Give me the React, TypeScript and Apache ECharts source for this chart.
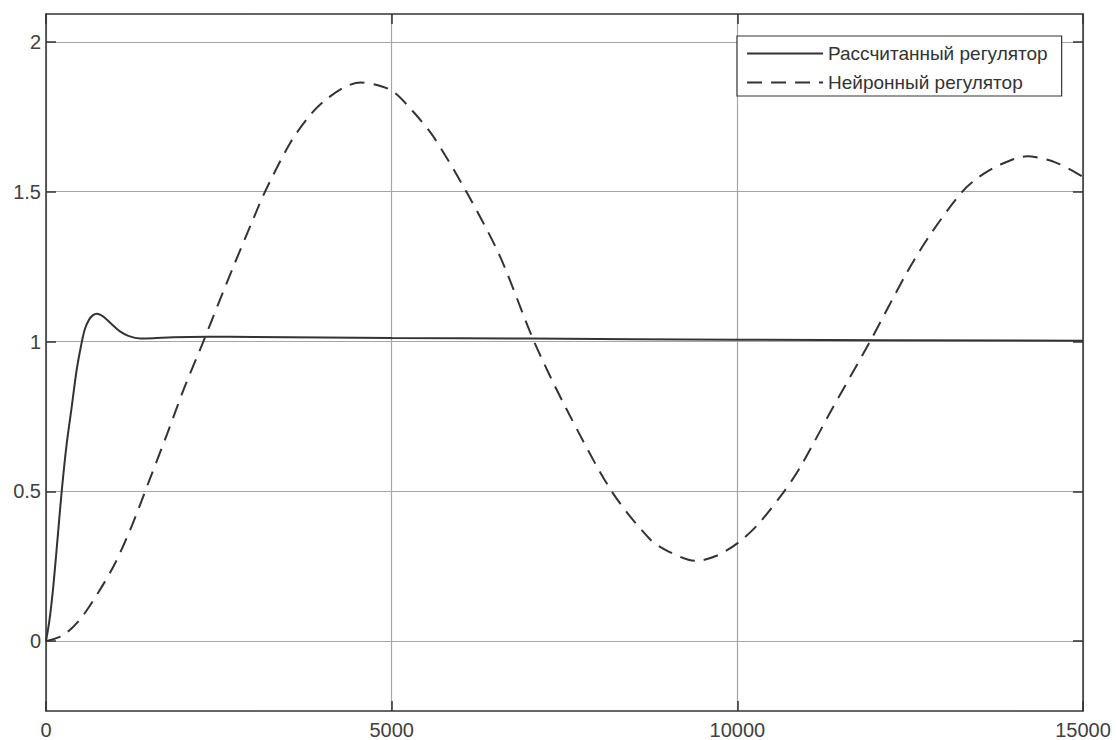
import React, { useEffect, useRef } from "react";
import * as echarts from "echarts";

const seriesNames = ["Рассчитанный регулятор", "Нейронный регулятор"];

const calcX = [0, 50, 106, 170, 227, 300, 371, 440, 502, 560, 620, 680, 738, 830, 950, 1070, 1200, 1360, 1550, 1837, 2329, 3000, 5000, 7000, 10000, 15000];
const calcY = [0, 0.07, 0.184, 0.35, 0.5, 0.66, 0.78, 0.9, 0.98, 1.04, 1.072, 1.088, 1.093, 1.083, 1.058, 1.034, 1.018, 1.01, 1.011, 1.0145, 1.016, 1.015, 1.012, 1.01, 1.006, 1.003];

const neuroX = [0, 250, 500, 750, 1000, 1250, 1500, 1750, 2000, 2276, 2500, 2710, 3000, 3168, 3530, 3800, 4011, 4300, 4550, 4800, 5024, 5300, 5603, 6085, 6567, 7060, 7532, 8183, 8737, 9000, 9400, 9700, 10014, 10300, 10665, 10906, 11340, 11919, 12450, 12800, 13245, 13500, 13800, 14186, 14600, 15000];
const neuroY = [0, 0.02, 0.075, 0.16, 0.26, 0.39, 0.54, 0.69, 0.845, 1.0, 1.13, 1.25, 1.41, 1.5, 1.662, 1.75, 1.8, 1.847, 1.864, 1.855, 1.834, 1.77, 1.684, 1.498, 1.284, 1.0, 0.773, 0.5, 0.34, 0.3, 0.268, 0.285, 0.329, 0.39, 0.496, 0.579, 0.762, 1.0, 1.229, 1.36, 1.498, 1.55, 1.59, 1.618, 1.598, 1.549];

const yTicks = [0, 0.5, 1, 1.5, 2];
const yMin = -0.233;
const yMax = 2.093;
const xMin = 0;
const xMax = 15000;
const xStep = 5000;

const FONT = "'Liberation Sans', Arial, sans-serif";

export default function App() {
  const ref = useRef<HTMLDivElement>(null);
  useEffect(() => {
    if (!ref.current) return;
    const chart = echarts.init(ref.current, null, { renderer: "svg" });
    const axisLine = { show: true, onZero: false, lineStyle: { color: "#333", width: 1.5 } };
    const tick = { show: true, inside: true, length: 10, lineStyle: { color: "#333", width: 1.5 } };
    const split = { show: true, lineStyle: { color: "#a6a6a6", width: 1.2 } };
    const label = { color: "#404040", fontSize: 20, fontFamily: FONT };
    chart.setOption({
      animation: false,
      backgroundColor: "#fff",
      grid: { left: 46, right: 33, top: 14, bottom: 28, containLabel: false },
      legend: {
        orient: "vertical",
        left: 737,
        top: 36,
        itemWidth: 76,
        itemHeight: 14,
        itemGap: 10,
        padding: [8, 14, 4, 9],
        backgroundColor: "#fff",
        borderColor: "#333",
        borderWidth: 1.2,
        itemStyle: { opacity: 0 },
        textStyle: { color: "#333", fontSize: 19, fontFamily: FONT },
        data: seriesNames,
      },
      xAxis: [
        {
          type: "value",
          position: "bottom",
          min: xMin,
          max: xMax,
          interval: xStep,
          axisLine,
          axisTick: tick,
          splitLine: split,
          axisLabel: { ...label, margin: 9, formatter: (v: number) => String(v) },
        },
        {
          type: "value",
          position: "top",
          min: xMin,
          max: xMax,
          interval: xStep,
          axisLine,
          axisTick: tick,
          splitLine: { show: false },
          axisLabel: { show: false },
        },
      ],
      yAxis: [
        {
          type: "value",
          position: "left",
          min: yMin,
          max: yMax,
          axisLine,
          axisTick: { ...tick, customValues: yTicks },
          splitLine: split,
          axisLabel: { ...label, margin: 5, customValues: yTicks, formatter: (v: number) => String(v) },
        },
        {
          type: "value",
          position: "right",
          min: yMin,
          max: yMax,
          axisLine,
          axisTick: { ...tick, customValues: yTicks },
          splitLine: { show: false },
          axisLabel: { show: false },
        },
      ],
      series: [
        {
          name: seriesNames[0],
          type: "line",
          xAxisIndex: 0,
          yAxisIndex: 0,
          data: calcX.map((x, i) => [x, calcY[i]]),
          symbol: "none",
          smooth: 0.3,
          lineStyle: { color: "#333", width: 2, type: "solid" },
          itemStyle: { color: "#333" },
        },
        {
          name: seriesNames[1],
          type: "line",
          xAxisIndex: 0,
          yAxisIndex: 0,
          data: neuroX.map((x, i) => [x, neuroY[i]]),
          symbol: "none",
          smooth: 0.3,
          lineStyle: { color: "#333", width: 2, type: [15, 9] },
          itemStyle: { color: "#333" },
        },
      ],
    });
    return () => chart.dispose();
  }, []);
  return (
    <div
      ref={ref}
      style={{ position: "absolute", left: 0, top: 0, width: 1116, height: 740, background: "#fff" }}
    />
  );
}
